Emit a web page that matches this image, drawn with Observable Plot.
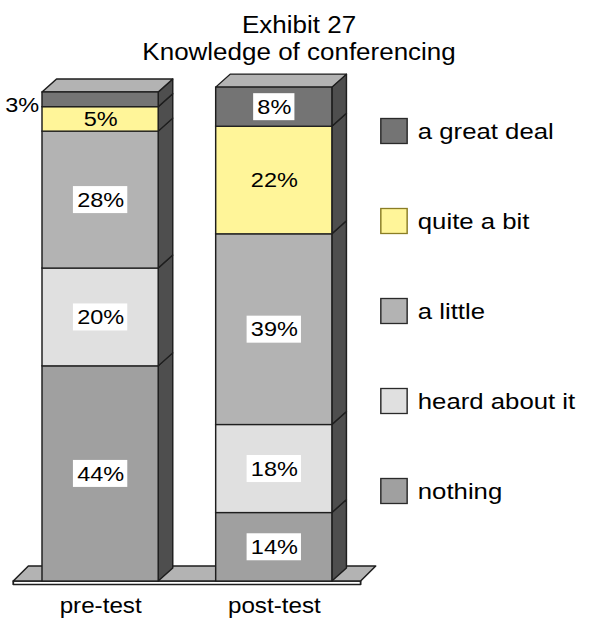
<!DOCTYPE html>
<html><head><meta charset="utf-8">
<script src="https://cdn.jsdelivr.net/npm/d3@7"></script>
<script src="https://cdn.jsdelivr.net/npm/@observablehq/plot@0.6"></script>
<style>html,body{margin:0;padding:0;background:#fff;} #chart svg{display:block;}</style>
</head><body><div id="chart"></div>
<script>
// ---- data ----
const tests = ["pre-test", "post-test"];
const categories = ["nothing", "heard about it", "a little", "quite a bit", "a great deal"];
const preTest = [44, 20, 28, 5, 3];
const postTest = [14, 18, 39, 22, 8];
const titleLines = ["Exhibit 27", "Knowledge of conferencing"];
const colors = ["#a0a0a0", "#e0e0e0", "#b3b3b3", "#fff599", "#747474"];

// ---- layout / style ----
const PAGE_W = 597, H = 620;
const W = 533;                 // drawing units, stretched horizontally to PAGE_W
const FONT = "'Liberation Sans', Arial, Helvetica, sans-serif";
const xRange = [37.5, 296.3];
const padIn = 0.331;
const step = (xRange[1] - xRange[0]) / (tests.length - padIn);
const bw = step * (1 - padIn);
const DX = 13, DY = 13, FDX = 13.5, FDY = 15;
const STROKE = "#1e1e1e", SW = 1.3;
const LABEL_FS = 21;

const series = [preTest, postTest];
const rows = [];
tests.forEach((t, i) => {
  let acc = 0;
  categories.forEach((c, j) => {
    const v = series[i][j];
    rows.push({test: t, category: c, value: v, y1: acc, y2: acc + v, mid: acc + v / 2, label: v + "%"});
    acc += v;
  });
});
const outside = d => d.value < 4;
const boxed = d => !outside(d) && d.category !== "quite a bit";

function depthFaces(index, scales) {
  const {x, y} = scales;
  const b = x.bandwidth();
  const g = d3.create("svg:g").attr("stroke", STROKE).attr("stroke-width", SW).attr("stroke-linejoin", "round");
  const gap = x.step() * x.paddingInner();
  const [r0, r1] = x.range();
  const fl = r0 - gap / 2, fr = r1 + gap / 2, y0 = y(0);
  g.append("rect").attr("x", fl).attr("y", y0).attr("width", fr - fl).attr("height", 3.5).attr("fill", "#fff").attr("stroke-width", 1.6);
  g.append("path").attr("fill", "#b3b3b3")
    .attr("d", `M${fl},${y0}L${fl + FDX},${y0 - FDY}L${fr + FDX},${y0 - FDY}L${fr},${y0}Z`);
  tests.forEach(t => {
    const x0 = x(t), x1 = x0 + b;
    const segs = rows.filter(d => d.test === t);
    segs.forEach(d => {
      const yb = y(d.y1), yt = y(d.y2);
      g.append("path").attr("fill", "#4e4e4e")
        .attr("d", `M${x1},${yb}L${x1 + DX},${yb - DY}L${x1 + DX},${yt - DY}L${x1},${yt}Z`);
    });
    const top = y(segs[segs.length - 1].y2);
    g.append("path").attr("fill", "#b3b3b3")
      .attr("d", `M${x0},${top}L${x0 + DX},${top - DY}L${x1 + DX},${top - DY}L${x1},${top}Z`);
  });
  return g.node();
}

function labelBoxes(index, scales) {
  const {x, y} = scales;
  const b = x.bandwidth();
  const ctx = document.createElement("canvas").getContext("2d");
  ctx.font = `${LABEL_FS}px ${FONT}`;
  const g = d3.create("svg:g").attr("fill", "#fff");
  rows.filter(boxed).forEach(d => {
    const w = ctx.measureText(d.label).width + 6.5;
    const cx = x(d.test) + b / 2, cy = y(d.mid);
    g.append("rect").attr("x", cx - w / 2).attr("y", cy - 13.5).attr("width", w).attr("height", 27);
  });
  return g.node();
}

function legend() {
  const g = d3.create("svg:g").attr("text-anchor", "start");
  const items = categories.map((c, i) => ({c, color: colors[i]})).reverse();
  items.forEach((it, i) => {
    const cy = 131 + i * 90;
    g.append("rect").attr("x", 340).attr("y", cy - 12.5).attr("width", 23.5).attr("height", 25)
      .attr("fill", it.color).attr("stroke", it.c === "quite a bit" ? "#8a7d25" : "#2a2a2a").attr("stroke-width", SW);
    g.append("text").attr("x", 373).attr("y", cy).attr("dy", "0.35em").attr("font-size", 23)
      .attr("text-anchor", "start").attr("fill", "#000").text(it.c);
  });
  return g.node();
}

const svg = Plot.plot({
  width: W, height: H,
  marginTop: 92, marginBottom: 39, marginLeft: 0, marginRight: 0,
  style: {fontFamily: FONT, fontSize: "21px", background: "#fff", color: "#000"},
  x: {domain: tests, range: xRange, paddingInner: padIn, paddingOuter: 0, round: false, axis: null},
  y: {domain: [0, 100], axis: null},
  color: {domain: categories, range: colors},
  marks: [
    depthFaces,
    Plot.barY(rows, {x: "test", y1: "y1", y2: "y2", fill: "category", stroke: STROKE, strokeWidth: SW}),
    labelBoxes,
    Plot.text(rows.filter(d => !outside(d)), {x: "test", y: "mid", text: "label", fontSize: LABEL_FS, fill: "#000"}),
    Plot.text(rows.filter(outside), {x: "test", y: "mid", text: "label", fontSize: LABEL_FS, fill: "#000",
      textAnchor: "end", dx: -(bw / 2 + 3), dy: 5}),
    Plot.axisX({tickSize: 0, tickPadding: 16.5, fontSize: 21.6, label: null, fill: "#000"}),
    Plot.text([titleLines.join("\n")], {text: d => d, frameAnchor: "top", lineAnchor: "top",
      dy: -78.5, fontSize: 23.2, lineHeight: 1.16, fill: "#000"}),
    legend
  ]
});
svg.setAttribute("width", PAGE_W);
svg.setAttribute("height", H);
svg.setAttribute("preserveAspectRatio", "none");
svg.style.width = PAGE_W + "px";
svg.style.height = H + "px";
svg.style.maxWidth = "none";
document.getElementById("chart").appendChild(svg);
</script>
</body></html>
